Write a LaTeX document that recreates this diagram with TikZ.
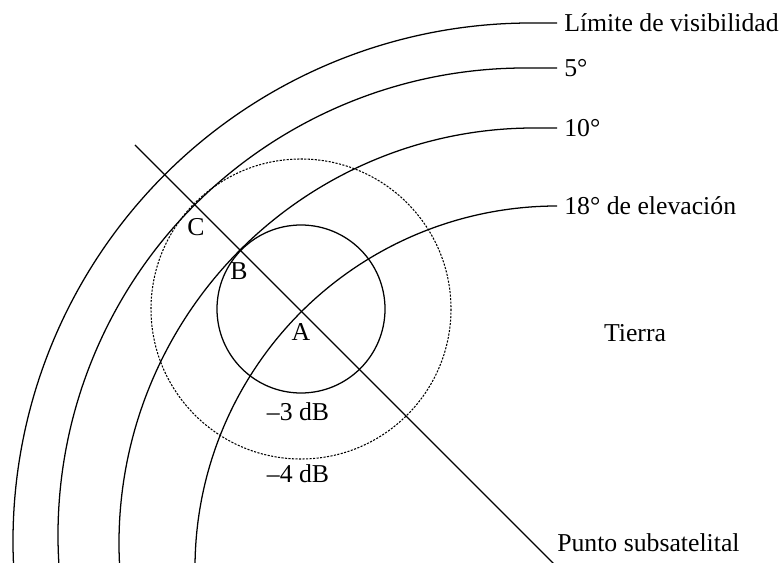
\documentclass[tikz,border=0pt]{standalone}
\usepackage{fontspec}
\setmainfont{Liberation Serif}
\usetikzlibrary{positioning}

\begin{document}
\begin{tikzpicture}[
    x=0.025cm, y=-0.025cm,
    curve/.style={line width=0.9pt},
    beam4/.style={line width=0.75pt, dash pattern=on 1.5pt off 1pt},
    lbl/.style={font=\fontsize{18.3}{21}\selectfont, inner sep=0pt},
    tag/.style={lbl, anchor=west, inner xsep=5pt},
]
    \clip (0,0) rectangle (780,563);

    % Elevation labels
    \node[tag] (lim) at (557,23) {Límite de visibilidad};
    \node[tag] (e5) at (557,68) {5°};
    \node[tag] (e10) at (557,128) {10°};
    \node[tag] (e18) at (557,206) {18° de elevación};

    % Elevation arcs
    \draw[curve] (lim.west) -- (531,23) arc[start angle=270, end angle=170, radius=518];
    \draw[curve] (e5.west) -- (525,68) arc[start angle=270, end angle=170, radius=467];
    \draw[curve] (e10.west) -- (534,128) arc[start angle=270, end angle=170, radius=415];
    \draw[curve] (e18.west) -- (557,206) arc[start angle=270, end angle=170, radius=362];

    % Beam contours
    \coordinate (ctr) at (301,309);
    \draw[curve] (ctr) circle[radius=84];
    \draw[beam4] (ctr) circle[radius=150];

    % Line to the subsatellite point
    \coordinate (far) at (135,145);
    \coordinate (sub) at (555,565);
    \draw[curve] (far) -- (sub);

    % Labels
    \node[lbl] (lc) at (196,227) {C};
    \node[lbl] (lb) at (239,271) {B};
    \node[lbl] (la) at (301,332) {A};
    \node[lbl] (db3) at (298,412) {–3 dB};
    \node[lbl] (db4) at (298,474) {–4 dB};
    \node[lbl] (earth) at (635,333) {Tierra};
    \node[lbl, anchor=base west] (subtxt) at (557,551) {Punto subsatelital};
\end{tikzpicture}
\end{document}
